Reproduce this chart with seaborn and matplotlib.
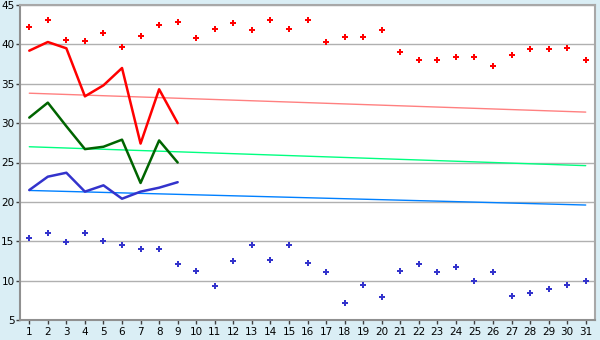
import numpy as np
import pandas as pd
import matplotlib
matplotlib.use("Agg")
import matplotlib.pyplot as plt
import seaborn as sns

days = list(range(1, 32))
line_days = list(range(1, 10))
trend_days = [1, 31]

red_points = [42.2, 43.1, 40.5, 40.4, 41.5, 39.7, 41.1, 42.4, 42.8, 40.8,
              42.0, 42.7, 41.8, 43.1, 41.9, 43.1, 40.3, 41.0, 41.0, 41.8,
              39.0, 38.0, 38.0, 38.4, 38.4, 37.2, 38.6, 39.4, 39.4, 39.5, 38.0]
blue_points = [15.4, 16.0, 14.9, 16.0, 15.0, 14.5, 14.0, 14.0, 12.1, 11.2,
               9.3, 12.5, 14.5, 12.6, 14.5, 12.2, 11.1, 7.2, 9.4, 7.9,
               11.2, 12.1, 11.1, 11.7, 10.0, 11.1, 8.0, 8.4, 9.0, 9.4, 10.0]
red_line = [39.2, 40.3, 39.5, 33.4, 34.8, 37.0, 27.4, 34.3, 30.0]
green_line = [30.7, 32.6, 29.6, 26.7, 27.0, 27.9, 22.4, 27.8, 25.0]
blue_line = [21.5, 23.2, 23.7, 21.3, 22.1, 20.4, 21.3, 21.8, 22.5]
trend_red = [33.8, 31.4]
trend_green = [27.0, 24.6]
trend_blue = [21.45, 19.6]

y_ticks = [5, 10, 15, 20, 25, 30, 35, 40, 45]

sns.set_theme(style="white")
plt.rcParams['font.family'] = ['DejaVu Sans']

bg = "#DAEEF5"
fig = plt.figure(figsize=(6, 3.4), dpi=100, facecolor=bg)
ax = fig.add_axes([20/600, 20/340, 575/600, 315/340])
ax.set_facecolor("white")

for v in y_ticks:
    ax.axhline(v, color="#B0B0B0", lw=1.0, zorder=0)

sns.lineplot(x=trend_days, y=trend_red, ax=ax, color="#FF8080", lw=1.0)
sns.lineplot(x=trend_days, y=trend_green, ax=ax, color="#00FF80", lw=1.0)
sns.lineplot(x=trend_days, y=trend_blue, ax=ax, color="#0080FF", lw=1.0)

sns.lineplot(x=line_days, y=red_line, ax=ax, color="#FF0000", lw=1.8)
sns.lineplot(x=line_days, y=green_line, ax=ax, color="#006400", lw=1.8)
sns.lineplot(x=line_days, y=blue_line, ax=ax, color="#3333CC", lw=1.8)

sns.scatterplot(x=days, y=red_points, ax=ax, color="#FF0000", marker="P", s=20, linewidth=0)
sns.scatterplot(x=days, y=blue_points, ax=ax, color="#3333CC", marker="P", s=20, linewidth=0)

ax.set_xlim(0.5, 31.5)
ax.set_ylim(5, 45)
ax.set_xticks(days)
ax.set_xticklabels([str(d) for d in days])
ax.set_yticks(y_ticks)
ax.set_yticklabels([str(v) for v in y_ticks])
ax.tick_params(axis="both", labelsize=7.5, colors="black", length=3, width=1, pad=1)
ax.tick_params(axis="both", color="#404040")
ax.tick_params(axis="y", direction="out", left=True)
ax.tick_params(axis="x", direction="out", bottom=True, pad=2)
for s in ax.spines.values():
    s.set_color("#A8A8A8")
    s.set_linewidth(1.5)
ax.spines["left"].set_color("#909090")
ax.spines["bottom"].set_color("#909090")
ax.set_xlabel("")
ax.set_ylabel("")
ax.grid(False)

fig.savefig("out.png", dpi=100, facecolor=bg)
